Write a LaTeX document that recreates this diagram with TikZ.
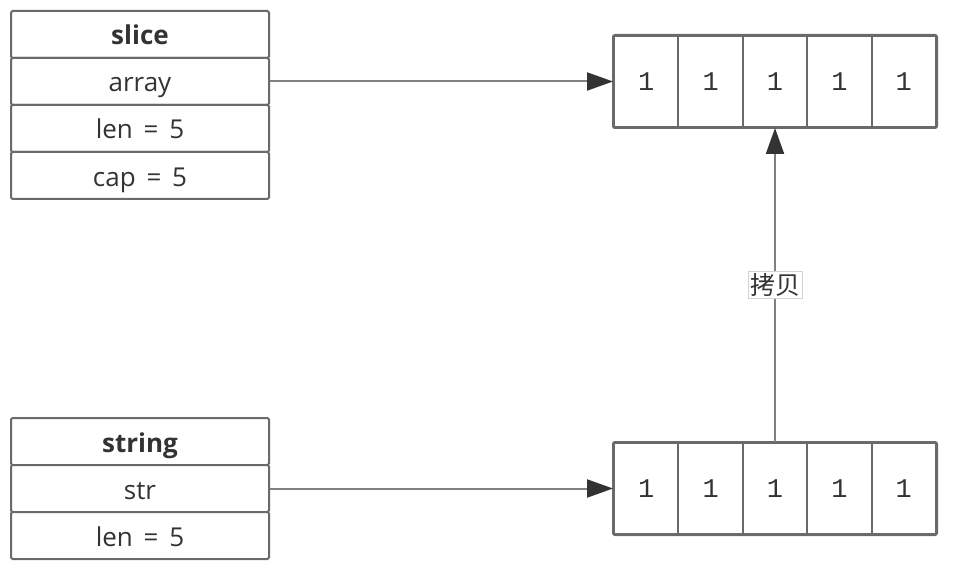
\documentclass[tikz,border=0pt]{standalone}
\usepackage{fontspec}
\setmainfont{Open Sans}[WordSpace=1.6]
\newfontfamily\cjk{Noto Sans CJK SC}
\newfontfamily\digitfont{Liberation Mono}
\usetikzlibrary{arrows.meta}
\definecolor{boxline}{HTML}{6A6A6A}
\definecolor{txt}{HTML}{333333}
\definecolor{conn}{HTML}{808080}
\definecolor{tip}{HTML}{333333}
\tikzset{
  x=1pt,y=-1pt,
  field/.style={draw=boxline,line width=2pt,fill=white,text=txt,font=\fontsize{26}{28}\selectfont,minimum width=258pt,minimum height=47pt,inner sep=0pt,text height=23pt,text depth=2pt,anchor=north west,rounded corners=1.5pt},
  head/.style={field,font=\fontsize{26}{28}\selectfont\bfseries},
  cell/.style={draw=boxline,line width=2pt,fill=white,text=txt,font=\digitfont\fontsize{27}{28}\selectfont,minimum width=64.4pt,minimum height=91pt,inner sep=0pt,anchor=north west},
  conn/.style={draw=conn,line width=2pt,-{Triangle[length=26pt,width=18pt,fill=tip,color=tip]}},
  lbl/.style={draw=gray!35,line width=0.8pt,fill=white,text=txt,font=\cjk\fontsize{25}{27}\selectfont,inner sep=2pt}
}
\begin{document}
\begin{tikzpicture}
\useasboundingbox (0,0) rectangle (958,564);
% slice
\node[head] (sh) at (10,10) {slice};
\node[field] (sa) at (10,57) {array};
\node[field] (sl) at (10,104) {len = 5};
\node[field] (sc) at (10,151) {cap = 5};
% string
\node[head] (th) at (10,417) {string};
\node[field] (ts) at (10,464) {str};
\node[field] (tl) at (10,511) {len = 5};
% top array
\foreach \i in {0,...,4}{
  \node[cell] (a\i) at ({613+64.4*\i},35) {1};
}
\draw[boxline,line width=2pt,rounded corners=2pt] (a0.north west) rectangle (a4.south east);
% bottom array
\foreach \i in {0,...,4}{
  \node[cell] (b\i) at ({613+64.4*\i},442) {1};
}
\draw[boxline,line width=2pt,rounded corners=2pt] (b0.north west) rectangle (b4.south east);
% connectors
\draw[conn] (sa.east) -- (a0.west);
\draw[conn] (ts.east) -- (b0.west);
\draw[conn] (b2.north) -- node[lbl] (cp) {拷贝} (a2.south);
\end{tikzpicture}
\end{document}
